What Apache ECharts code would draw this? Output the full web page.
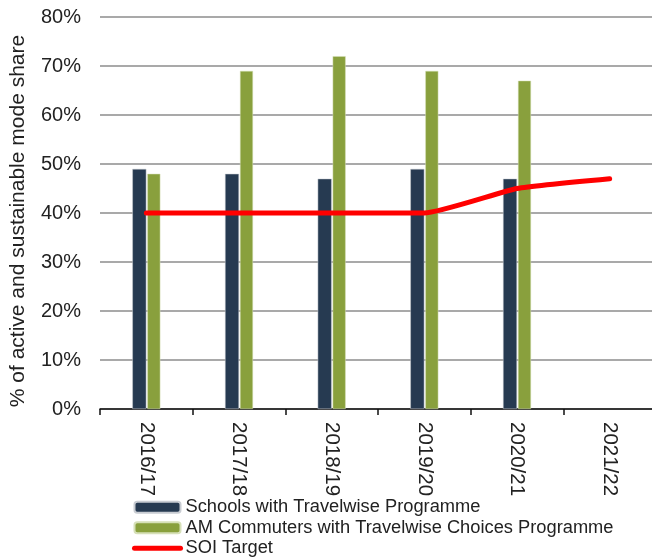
<!DOCTYPE html>
<html>
<head>
<meta charset="utf-8">
<script src="https://cdn.jsdelivr.net/npm/echarts@6/dist/echarts.min.js"></script>
<style>
  html, body { margin: 0; padding: 0; background: #fff; }
  #chart { width: 652px; height: 558px; }
</style>
</head>
<body>
<div id="chart"></div>
<script>
const years = ['2016/17', '2017/18', '2018/19', '2019/20', '2020/21', '2021/22'];
const schools = [49, 48, 47, 49, 47, null];
const commuters = [48, 69, 72, 69, 67, null];
const soiTarget = [40, 40, 40, 40, 45, 47];
const yTicks = [0, 10, 20, 30, 40, 50, 60, 70, 80];

const font = 'Liberation Sans, Arial, sans-serif';
const chart = echarts.init(document.getElementById('chart'));

chart.setOption({
  animation: false,
  textStyle: { fontFamily: font },
  grid: {
    left: 100,
    top: 17,
    width: 556,
    height: 392,
    outerBoundsMode: 'none'
  },
  legend: {
    orient: 'vertical',
    left: 132,
    top: 497,
    padding: 0,
    height: 70,
    itemWidth: 46,
    itemHeight: 11,
    itemGap: 0,
    textStyle: { fontSize: 18.3, color: '#222', lineHeight: 20.5, fontFamily: font },
    data: [
      'Schools with Travelwise Programme',
      'AM Commuters with Travelwise Choices Programme',
      { name: 'SOI Target', itemStyle: { opacity: 0 }, lineStyle: { width: 5, cap: 'round', color: '#ff0000' } }
    ]
  },
  xAxis: {
    type: 'category',
    data: years,
    axisLine: { lineStyle: { color: '#111', width: 1.5 } },
    axisTick: { show: true, length: 6, lineStyle: { color: '#111', width: 1.5 } },
    axisLabel: { rotate: -90, fontSize: 20.5, color: '#222', margin: 13, fontFamily: font },
    splitLine: { show: false }
  },
  yAxis: {
    type: 'value',
    min: yTicks[0],
    max: yTicks[yTicks.length - 1],
    interval: 10,
    name: '% of active and sustainable mode share',
    nameLocation: 'middle',
    nameGap: 71,
    nameTextStyle: { fontSize: 21, color: '#222', fontFamily: font, padding: [0, 16, 0, 0] },
    axisLine: { show: false },
    axisTick: { show: false },
    axisLabel: { formatter: v => v + '%', fontSize: 20, color: '#222', margin: 19, fontFamily: font },
    splitLine: { lineStyle: { color: '#8c8c8c', width: 1.5 } }
  },
  series: [
    {
      name: 'Schools with Travelwise Programme',
      type: 'bar',
      data: schools,
      barWidth: 14,
      barGap: '7%',
      itemStyle: { color: '#263a51', borderColor: '#c8ccd2', borderWidth: 0.5 }
    },
    {
      name: 'AM Commuters with Travelwise Choices Programme',
      type: 'bar',
      data: commuters,
      barWidth: 13,
      itemStyle: { color: '#89a03d', borderColor: '#d6e0b8', borderWidth: 0.5 }
    },
    {
      name: 'SOI Target',
      type: 'line',
      data: soiTarget,
      symbol: 'none',
      smooth: 0.15,
      lineStyle: { color: '#ff0000', width: 5, cap: 'round' },
      itemStyle: { color: '#ff0000' }
    }
  ]
});
</script>
</body>
</html>
